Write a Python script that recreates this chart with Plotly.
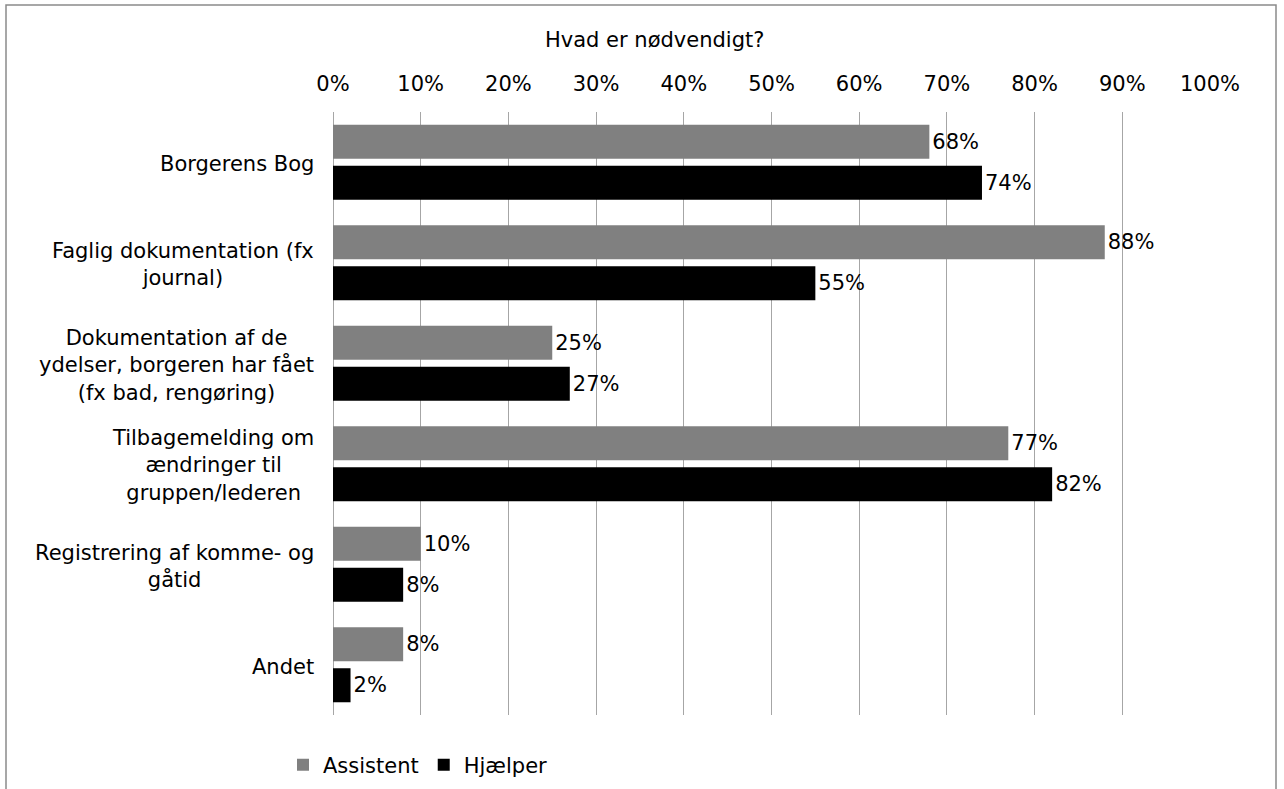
import plotly.graph_objects as go

# Survey answers: share of respondents per group
categories = [
    "Borgerens Bog",
    "Faglig dokumentation (fx<br>journal)",
    "Dokumentation af de<br>ydelser, borgeren har fået<br>(fx bad, rengøring)",
    "Tilbagemelding om<br>ændringer til<br>gruppen/lederen",
    "Registrering af komme- og<br>gåtid",
    "Andet",
]
assistent = [68, 88, 25, 77, 10, 8]
hjaelper = [74, 55, 27, 82, 8, 2]
x_ticks = list(range(0, 101, 10))
x_tick_labels = [f"{v}%" for v in x_ticks]

FONT = "DejaVu Sans, Verdana, sans-serif"
FS = 21
W, H = 1284, 789
L, R, T, B = 333, 74, 112, 74
pw, ph = W - L - R, H - T - B


def px_x(p):
    """Pixel column -> paper x."""
    return (p - L) / pw


def px_y(p):
    """Pixel row -> paper y."""
    return (H - B - p) / ph


cat_ids = list(range(len(categories)))

fig = go.Figure()
for name, values, color in [("Assistent", assistent, "#808080"),
                            ("Hjælper", hjaelper, "#000000")]:
    fig.add_trace(go.Bar(
        name=name, y=cat_ids, x=values, orientation="h",
        marker=dict(color=color, line=dict(width=0)),
        text=[f"{v}%" for v in values], texttemplate="%{text}",
        textposition="outside",
        textfont=dict(family=FONT, size=FS, color="#000000"),
        cliponaxis=False, hoverinfo="skip",
    ))

# Category labels: centred multi-line blocks right of the label column
annotations = []
for i, label in enumerate(categories):
    annotations.append(dict(
        x=0, xref="paper", y=i, yref="y", text=label,
        xanchor="right", yanchor="middle", align="center",
        xshift=-17, yshift=-2, showarrow=False,
        font=dict(family=FONT, size=FS, color="#000000"),
    ))
# Axis title above the tick labels
annotations.append(dict(
    x=px_x(654), xref="paper", y=px_y(40), yref="paper",
    xanchor="center", yanchor="middle",
    text="Hvad er nødvendigt?", showarrow=False,
    font=dict(family=FONT, size=FS, color="#000000"),
))

fig.update_layout(
    width=W, height=H,
    margin=dict(l=L, r=R, t=T, b=B, pad=0, autoexpand=False),
    paper_bgcolor="#ffffff", plot_bgcolor="#ffffff",
    font=dict(family=FONT, size=FS, color="#000000"),
    barmode="group", bargap=0.184, bargroupgap=0.17,
    showlegend=True,
    legend=dict(
        orientation="h", x=px_x(283), xanchor="left",
        y=px_y(765), yanchor="middle",
        font=dict(family=FONT, size=FS, color="#000000"),
        bgcolor="rgba(0,0,0,0)", itemclick=False, itemdoubleclick=False,
        traceorder="normal", itemwidth=30,
    ),
    xaxis=dict(
        side="top", range=[0, 100], tickvals=x_ticks, ticktext=x_tick_labels,
        showgrid=True, gridcolor="#a6a6a6", gridwidth=1,
        zeroline=True, zerolinecolor="#a6a6a6", zerolinewidth=1,
        showline=False, ticks="", ticklabelstandoff=16,
        tickfont=dict(family=FONT, size=FS, color="#000000"),
        fixedrange=True, automargin=False,
    ),
    yaxis=dict(
        range=[len(categories) - 0.5, -0.5], showticklabels=False,
        showgrid=False, zeroline=False, showline=False, ticks="",
        fixedrange=True, automargin=False,
    ),
    annotations=annotations,
    shapes=[dict(
        type="rect", xref="paper", yref="paper",
        x0=px_x(6), x1=px_x(1276), y0=px_y(820), y1=px_y(5),
        line=dict(color="#8a8a8a", width=1.5), fillcolor="rgba(0,0,0,0)",
        layer="below",
    )],
)

fig.write_html("out.html", config={"displayModeBar": False})
